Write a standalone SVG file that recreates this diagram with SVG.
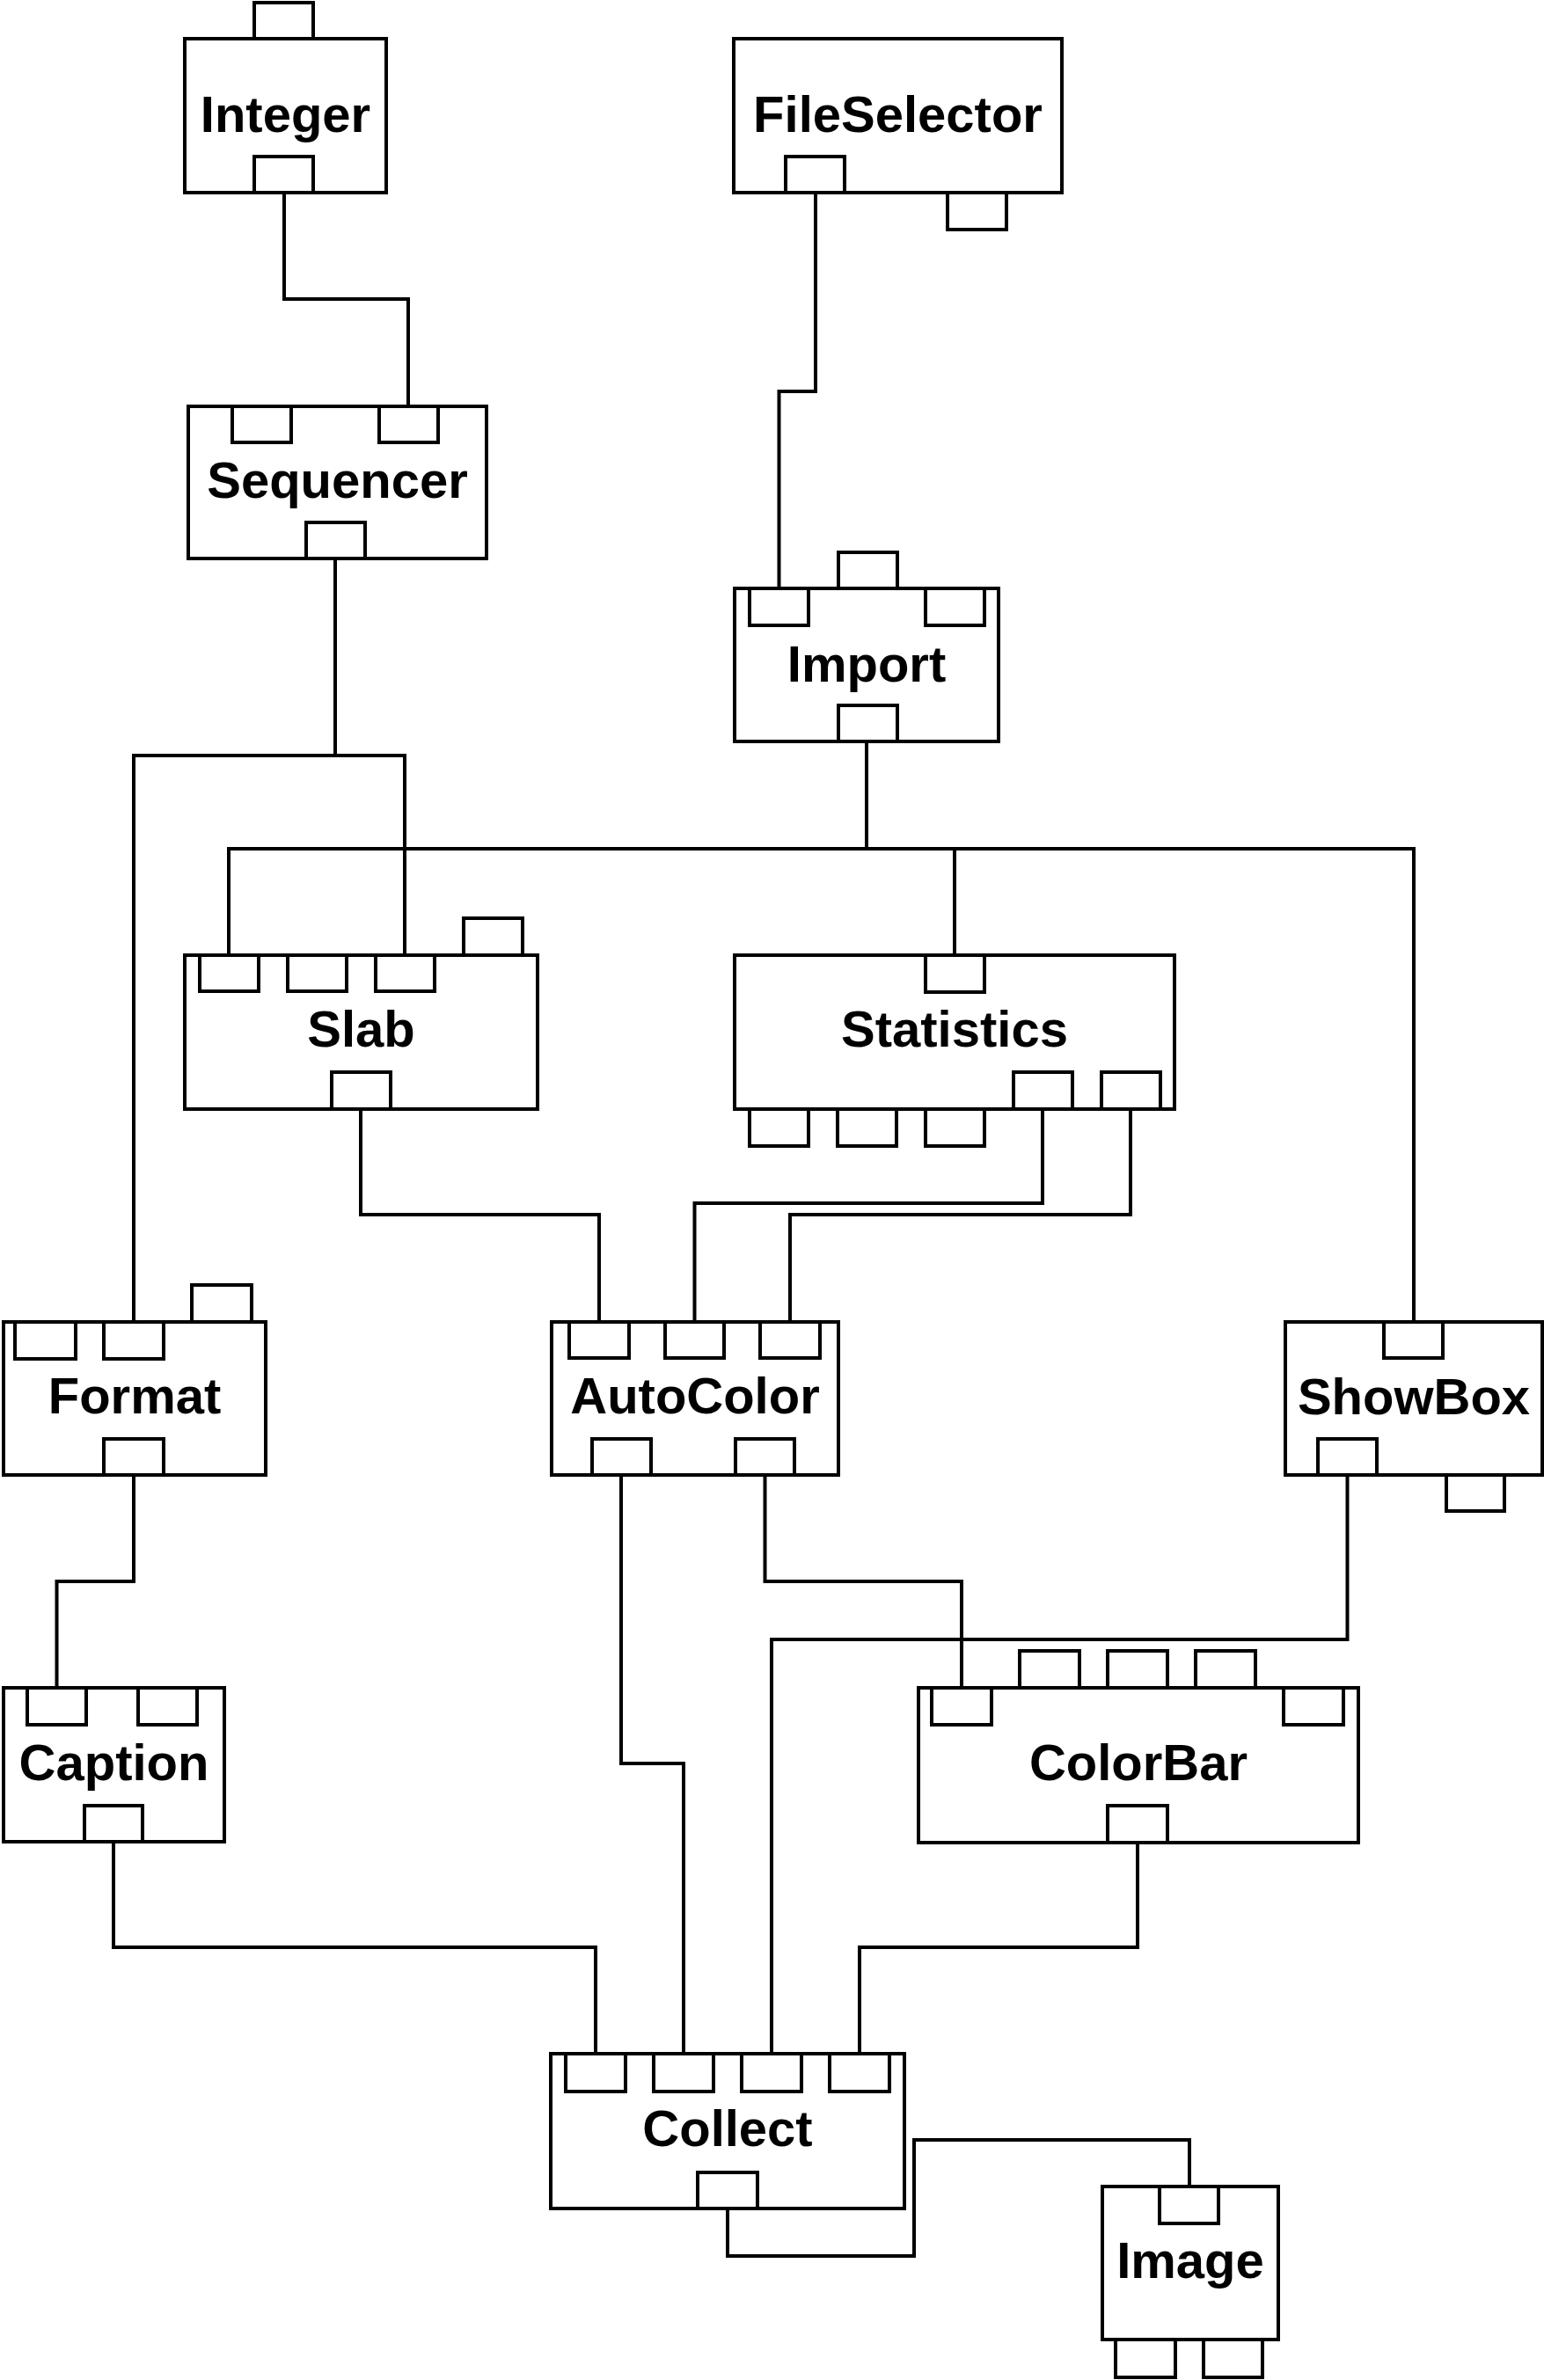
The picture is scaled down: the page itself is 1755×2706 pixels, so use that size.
<svg xmlns="http://www.w3.org/2000/svg" width="1755" height="2706" viewBox="0 0 1755 2706">
<style>
.box{fill:#fff;stroke:#000;stroke-width:4}
.port{fill:#fff;stroke:#000;stroke-width:4}
.lbl{font-family:"Liberation Sans",Arial,Helvetica,sans-serif;font-weight:bold;font-size:58px;text-anchor:middle;fill:#000}
.wire{fill:none;stroke:#000;stroke-width:4}
</style>
<rect x="0" y="0" width="1755" height="2706" fill="#fff"/>
<g id="connectors">
<path class="wire" d="M323,219 V340 H464 V462"/>
<path class="wire" d="M927,219 V445 H885.5 V669"/>
<path class="wire" d="M381,635 V859 M152,1503 V859 H460 V1086"/>
<path class="wire" d="M985,843 V965 M260,1086 V965 H1607 V1503 M1085,965 V1086"/>
<path class="wire" d="M410,1261 V1381 H681 V1503"/>
<path class="wire" d="M1185,1261 V1368 H789.5 V1503"/>
<path class="wire" d="M1285,1261 V1381 H898 V1503"/>
<path class="wire" d="M152,1677 V1798 H64.5 V1919"/>
<path class="wire" d="M706,1677 V2005 H777 V2335"/>
<path class="wire" d="M869.5,1677 V1798 H1093 V1919"/>
<path class="wire" d="M1531.5,1677 V1864 H877 V2335"/>
<path class="wire" d="M129,2094 V2214 H677 V2335"/>
<path class="wire" d="M1293,2095 V2214 H977 V2335"/>
<path class="wire" d="M827,2511 V2565 H1039 V2433 H1352 V2486"/>
</g>
<g id="integer">
<rect class="port" x="289" y="3" width="67" height="41"/>
<rect class="box" x="210" y="44" width="229" height="175"/>
<rect class="port" x="289" y="178" width="67" height="41"/>
<text class="lbl" x="324.5" y="150">Integer</text>
</g>
<g id="fileselector">
<rect class="port" x="1077" y="219" width="67" height="42"/>
<rect class="box" x="834" y="44" width="373" height="175"/>
<rect class="port" x="893" y="178" width="67" height="41"/>
<text class="lbl" x="1020.5" y="150">FileSelector</text>
</g>
<g id="sequencer">
<rect class="box" x="214" y="462" width="339" height="173"/>
<rect class="port" x="264" y="462" width="67" height="41"/>
<rect class="port" x="431" y="462" width="67" height="41"/>
<rect class="port" x="348" y="594" width="67" height="41"/>
<text class="lbl" x="383.5" y="566">Sequencer</text>
</g>
<g id="import">
<rect class="port" x="953" y="628" width="67" height="41"/>
<rect class="box" x="835" y="669" width="300" height="174"/>
<rect class="port" x="852" y="669" width="67" height="42"/>
<rect class="port" x="1052" y="669" width="67" height="42"/>
<rect class="port" x="953" y="802" width="67" height="41"/>
<text class="lbl" x="985" y="775">Import</text>
</g>
<g id="slab">
<rect class="port" x="527" y="1044" width="67" height="42"/>
<rect class="box" x="210" y="1086" width="401" height="175"/>
<rect class="port" x="227" y="1086" width="67" height="41"/>
<rect class="port" x="327" y="1086" width="67" height="41"/>
<rect class="port" x="427" y="1086" width="67" height="41"/>
<rect class="port" x="377" y="1219" width="67" height="42"/>
<text class="lbl" x="410.5" y="1190">Slab</text>
</g>
<g id="statistics">
<rect class="port" x="852" y="1261" width="67" height="42"/>
<rect class="port" x="952" y="1261" width="67" height="42"/>
<rect class="port" x="1052" y="1261" width="67" height="42"/>
<rect class="box" x="835" y="1086" width="500" height="175"/>
<rect class="port" x="1052" y="1086" width="67" height="42"/>
<rect class="port" x="1152" y="1219" width="67" height="42"/>
<rect class="port" x="1252" y="1219" width="67" height="42"/>
<text class="lbl" x="1085" y="1190">Statistics</text>
</g>
<g id="format">
<rect class="port" x="218" y="1461" width="68" height="42"/>
<rect class="box" x="4" y="1503" width="298" height="174"/>
<rect class="port" x="17" y="1503" width="69" height="42"/>
<rect class="port" x="118" y="1503" width="68" height="42"/>
<rect class="port" x="118" y="1636" width="68" height="41"/>
<text class="lbl" x="153" y="1607">Format</text>
</g>
<g id="autocolor">
<rect class="box" x="627" y="1503" width="326" height="174"/>
<rect class="port" x="647" y="1503" width="68" height="41"/>
<rect class="port" x="756" y="1503" width="67" height="41"/>
<rect class="port" x="864" y="1503" width="68" height="41"/>
<rect class="port" x="673" y="1636" width="67" height="41"/>
<rect class="port" x="836" y="1636" width="67" height="41"/>
<text class="lbl" x="790" y="1607">AutoColor</text>
</g>
<g id="showbox">
<rect class="port" x="1644" y="1677" width="66" height="41"/>
<rect class="box" x="1461" y="1503" width="292" height="174"/>
<rect class="port" x="1573" y="1503" width="67" height="41"/>
<rect class="port" x="1498" y="1636" width="67" height="41"/>
<text class="lbl" x="1607" y="1608">ShowBox</text>
</g>
<g id="caption">
<rect class="box" x="4" y="1919" width="251" height="175"/>
<rect class="port" x="31" y="1919" width="67" height="42"/>
<rect class="port" x="157" y="1919" width="67" height="42"/>
<rect class="port" x="96" y="2053" width="66" height="41"/>
<text class="lbl" x="129.5" y="2024">Caption</text>
</g>
<g id="colorbar">
<rect class="port" x="1159" y="1877" width="68" height="42"/>
<rect class="port" x="1259" y="1877" width="68" height="42"/>
<rect class="port" x="1359" y="1877" width="68" height="42"/>
<rect class="box" x="1044" y="1919" width="500" height="176"/>
<rect class="port" x="1059" y="1919" width="68" height="42"/>
<rect class="port" x="1459" y="1919" width="68" height="42"/>
<rect class="port" x="1259" y="2053" width="68" height="42"/>
<text class="lbl" x="1294" y="2024">ColorBar</text>
</g>
<g id="collect">
<rect class="box" x="626" y="2335" width="402" height="176"/>
<rect class="port" x="643" y="2335" width="68" height="43"/>
<rect class="port" x="743" y="2335" width="68" height="43"/>
<rect class="port" x="843" y="2335" width="68" height="43"/>
<rect class="port" x="943" y="2335" width="68" height="43"/>
<rect class="port" x="793" y="2470" width="68" height="41"/>
<text class="lbl" x="827" y="2440">Collect</text>
</g>
<g id="image">
<rect class="port" x="1268" y="2660" width="68" height="43"/>
<rect class="port" x="1368" y="2660" width="67" height="43"/>
<rect class="box" x="1253" y="2486" width="200" height="174"/>
<rect class="port" x="1318" y="2486" width="67" height="42"/>
<text class="lbl" x="1353" y="2590">Image</text>
</g>
</svg>
